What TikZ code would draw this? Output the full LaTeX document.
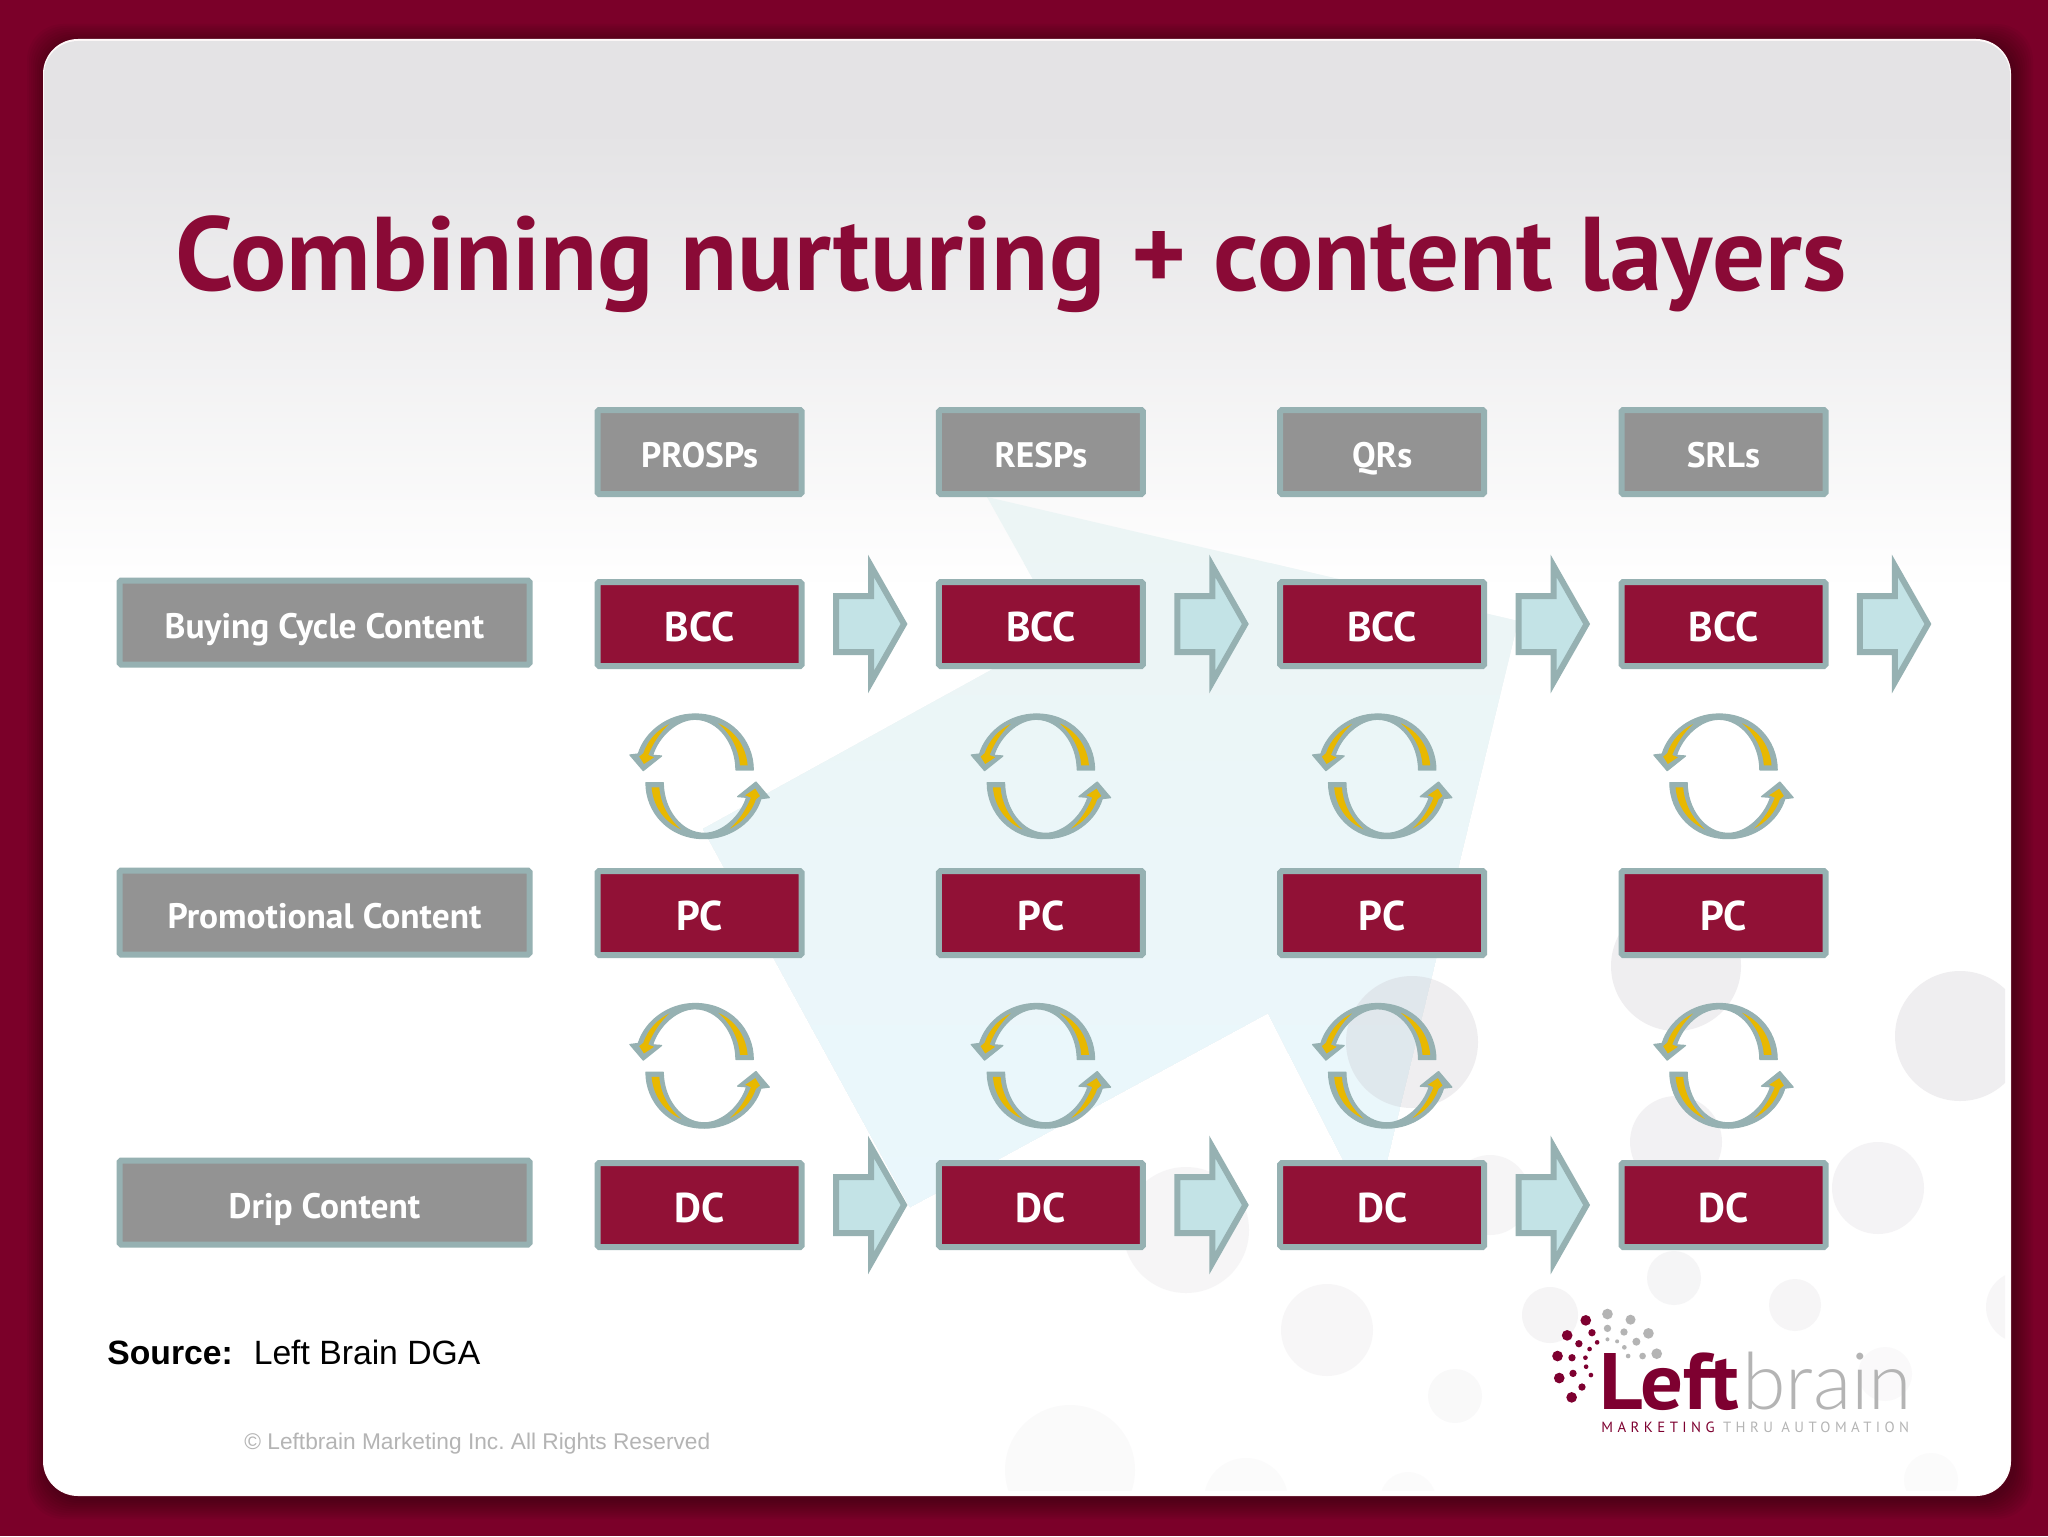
\documentclass[tikz,border=0pt]{standalone}
\usepackage{fontspec}
\usetikzlibrary{calc}
\setmainfont{Liberation Sans}
\frenchspacing
\newfontfamily\myr{PT Sans}
\newfontfamily\myrs[LetterSpace=30]{PT Sans}
\newfontfamily\lgt{Lato Light}
\definecolor{bordeaux}{HTML}{7B0029}
\definecolor{titlered}{HTML}{8A0A36}
\definecolor{boxred}{HTML}{911136}
\definecolor{boxgray}{HTML}{939393}
\definecolor{edgeteal}{HTML}{96B1B2}
\definecolor{arrowfill}{HTML}{C3E3E6}
\definecolor{yel}{HTML}{E8B800}
\definecolor{logored}{HTML}{7E0030}
\definecolor{logogray}{HTML}{B4B4B4}
\definecolor{cardtop}{HTML}{E4E3E5}
\definecolor{bigtop}{HTML}{ECF5F5}
\definecolor{bigbot}{HTML}{EAF7FC}
\definecolor{bubcol}{HTML}{C2BDC4}
\tikzset{
  basebox/.style={draw=edgeteal,line width=3pt,inner sep=0pt,text=white,align=center,rounded corners=0.8pt,minimum height=42pt},
  redbox/.style={basebox,fill=boxred,minimum width=102pt,text height=17pt,text depth=0pt,font=\myr\bfseries\fontsize{20.8}{22}\selectfont},
  graybox/.style={basebox,fill=boxgray,minimum width=102pt,text height=15.5pt,text depth=0pt,font=\myr\bfseries\fontsize{17.7}{19}\selectfont},
  rowbox/.style={graybox,minimum width=205pt},
  blockarrow/.style={draw=edgeteal,fill=arrowfill,line width=3pt,miter limit=10},
  swirl/.style={fill=edgeteal,draw=edgeteal,line width=.6pt,line join=round},
  swirlin/.style={fill=yel},
}
\newcommand{\halfswirl}{%
  \filldraw[swirl] (161,-19) .. controls (161,-109) and (91,-187) .. (-14,-187) .. controls (-94,-187) and (-164,-134) .. (-184,-67) -- (-209,-64) -- (-169,-17) -- (-114,-61) -- (-141,-63) .. controls (-124,-119) and (-69,-171) .. (-14,-171) .. controls (56,-171) and (109,-99) .. (109,-19) -- cycle;
  \fill[swirlin] (56,-159) .. controls (110,-135) and (140,-85) .. (144,-33) -- (121,-33) .. controls (118,-80) and (95,-125) .. (56,-159) -- cycle;
  \fill[swirlin] (-91,-157) .. controls (-125,-140) and (-155,-110) .. (-169,-69) -- (-181,-59) -- (-167,-37) -- (-137,-57) -- (-154,-64) .. controls (-139,-100) and (-120,-130) .. (-91,-157) -- cycle;
}
\newcommand{\swirlat}[2]{%
  \begin{scope}[shift={(#1,#2)},x=0.16667pt,y=-0.16667pt]\halfswirl\end{scope}%
  \begin{scope}[shift={(#1,#2)},x=-0.16667pt,y=0.16667pt]\halfswirl\end{scope}%
}
\newcommand{\barrow}[1]{%
  \draw[blockarrow] ($(#1)+(136.4,-28)$) -- ++(35,0) -- ++(0,-30) -- ($(#1)+(204.4,0)$) -- ($(#1)+(171.4,58)$) -- ++(0,-30) -- ++(-35,0) -- cycle;%
}
\begin{document}
\begin{tikzpicture}[x=0.5pt,y=-0.5pt]
\useasboundingbox (0,0) rectangle (2048,1536);
\fill[bordeaux] (0,0) rectangle (2048,1536);
% shadow
\foreach \k in {2,4,...,20}
  \fill[black,opacity=.035,rounded corners=18pt] (44-\k+3,40-\k+4) rectangle (2010+\k+3,1495+\k+4);
% card
\fill[white!90!pink,rounded corners=17.5pt] (43,39) rectangle (2011,1496);
\begin{scope}
\clip[rounded corners=17pt] (44,41) rectangle (2010,1495);
\fill[white] (40,30) rectangle (2020,1500);
\fill[cardtop] (40,30) rectangle (2020,130);
\fill[top color=cardtop,bottom color=white] (40,130) rectangle (2020,590);
% large pale arrow
\begin{scope}
\clip (987,497) -- (1518,621) -- (1373,1218) -- (1268,1013) -- (910,1207) -- (703,829) -- (1062,631) -- cycle;
\foreach \k in {0,1,...,10}{
  \pgfmathtruncatemacro{\pc}{\k*10}
  \pgfmathsetmacro{\yy}{497+\k*66}
  \fill[bigbot!\pc!bigtop] (680,\yy) rectangle (1540,1240);
}
\end{scope}
% bubbles
\clip (40,30) rectangle (2005,1490);
\foreach \cx/\cy/\r/\o in {1676/966/65/.25,1960/1036/65/.25,1412/1042/66/.25,1676/1142/46/.2,1878/1188/46/.17,1674/1278/27/.15,1795/1305/26/.14,2022/1307/36/.13,1550/1315/28/.16,1327/1330/46/.12,1455/1396/27/.09,1186/1230/63/.14,1490/1195/40/.14,1885/1374/27/.08,1070/1470/65/.07,1246/1500/42/.06,1408/1500/28/.05,1931/1480/27/.06}
  \fill[bubcol,opacity=\o] (\cx,\cy) circle[radius=\r*0.5pt];
\end{scope}
% title
\node[anchor=base,text=titlered,inner sep=0pt,font=\myr\bfseries\fontsize{52.4}{60}\selectfont] (title) at (1011,290) {Combining nurturing + content layers};
% row labels
\node[rowbox] (rowb) at (324.5,622.5) {Buying Cycle Content};
\node[rowbox] (rowp) at (324.5,912.5) {Promotional Content};
\node[rowbox] (rowd) at (324.5,1202.5) {Drip Content};
% columns
\foreach \i/\cx/\tx in {1/699.6/PROSPs,2/1040.9/RESPs,3/1382.2/QRs,4/1723.5/SRLs}{
  \node[graybox] (top\i) at (\cx,452) {\tx};
  \node[redbox] (bcc\i) at (\cx,624) {BCC};
  \node[redbox] (pc\i) at (\cx,913) {PC};
  \node[redbox] (dc\i) at (\cx,1205) {DC};
  \swirlat{\cx}{776.3}
  \swirlat{\cx}{1065.8}
  \barrow{bcc\i.center}
}
\foreach \i in {1,2,3}{\barrow{dc\i.center}}
% source
\node[anchor=base west,inner sep=0pt,font=\fontsize{16.85}{18}\selectfont] (src) at (107,1364) {\textbf{Source:}\hspace{.62em}Left Brain DGA};
\node[anchor=base west,inner sep=0pt,text=logogray,font=\fontsize{11.35}{13}\selectfont] (copy) at (244,1449) {© Leftbrain Marketing Inc. All Rights Reserved};
% logo
\begin{scope}[shift={(1500,1260)},x=0.1722pt,y=-0.1667pt]
\foreach \px/\py/\r in {249/181/16,195/226/16,267/218/11,229/251/11,282/247/7,260/267/7,167/288/16,209/293/11,248/293/7,250/320/7,264/345/7,212/340/11,172/354/16,238/381/11,208/412/16}
  \fill[logored] (\px,\py) circle[x radius=\r*0.5pt/3,y radius=\r*0.5pt/3];
\foreach \px/\py/\r in {312/162/16,379/179/15,312/205/11,360/216/11,431/220/16,312/238/6,340/244/6,396/245/12,361/262/7,372/288/7,414/288/10,455/281/16}
  \fill[logogray] (\px,\py) circle[x radius=\r*0.5pt/3,y radius=\r*0.5pt/3];
\end{scope}
\node[anchor=base west,inner sep=0pt,text=logored,font=\myr\bfseries\fontsize{40}{40}\selectfont] (left) at (1599,1409) {\scalebox{1.06}[1]{Left}};
\node[anchor=base west,inner sep=0pt,text=logogray,font=\lgt\fontsize{39.5}{40}\selectfont] (brain) at (1742,1409) {brain};
\node[anchor=base west,inner sep=0pt,font=\myrs\fontsize{7.4}{8}\selectfont] (tag) at (1601,1432) {\textcolor{logored}{MARKETING} \textcolor{logogray}{THRU AUTOMATION}};
\end{tikzpicture}
\end{document}
